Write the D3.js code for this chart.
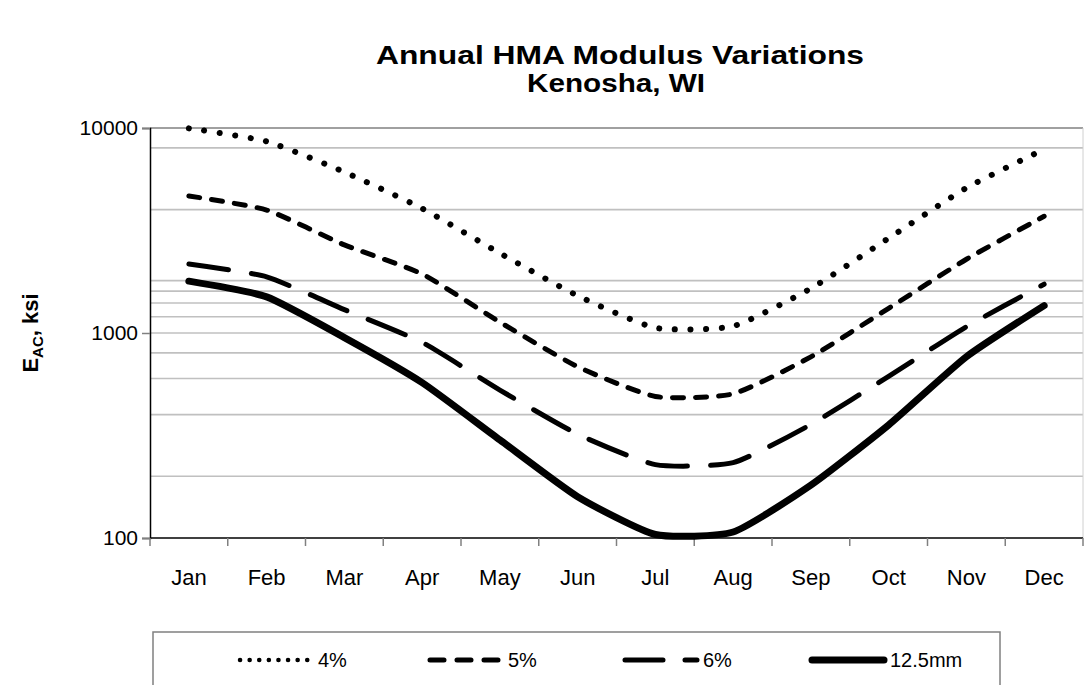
<!DOCTYPE html>
<html><head><meta charset="utf-8">
<script src="https://cdn.jsdelivr.net/npm/d3@7"></script>
<style>
body{margin:0;background:#fff;}
svg{display:block;font-family:"Liberation Sans",Arial,sans-serif;}
</style></head>
<body><svg id="c" width="1084" height="685"></svg>
<script>
const months = ["Jan","Feb","Mar","Apr","May","Jun","Jul","Aug","Sep","Oct","Nov","Dec"];
const seriesNames = ["4%","5%","6%","12.5mm"];
const v4 = [9960,8600,6100,4050,2450,1520,1060,1080,1650,2900,5100,7870];
const v5 = [4660,3980,2690,1940,1130,685,490,505,765,1320,2290,3710];
const v6 = [2170,1880,1300,900,527,321,228,233,358,615,1073,1730];
const v125 = [1790,1500,950,573,301,159,104,107,181,356,766,1360];
const yTicks = [100,1000,10000];
const gridVals = [200,400,600,800,1000,1200,1400,1600,1800,4000,8000];

const svg = d3.select("#c");
const L=150, R=1083, T=128, B=538;
const x = d3.scaleBand().domain(months).range([L,R]);
const y = d3.scaleLog().domain([100,10000]).range([B,T]);

// gridlines
svg.append("g").selectAll("line").data(gridVals).join("line")
  .attr("x1",L).attr("x2",R).attr("y1",d=>y(d)).attr("y2",d=>y(d))
  .attr("stroke","#c0c0c0").attr("stroke-width",1.6);
// top border
svg.append("line").attr("x1",L).attr("x2",R).attr("y1",y(10000)).attr("y2",y(10000))
  .attr("stroke","#808080").attr("stroke-width",1.6);
// right border
svg.append("line").attr("x1",R).attr("x2",R).attr("y1",T).attr("y2",B)
  .attr("stroke","#d0d0d0").attr("stroke-width",1);

// y axis
const ya = svg.append("g").attr("transform",`translate(${L},0)`)
  .call(d3.axisLeft(y).tickValues(yTicks).tickFormat(d3.format("d")).tickSize(8).tickPadding(4));
ya.select(".domain").attr("stroke","#000").attr("stroke-width",1.5);
ya.selectAll(".tick line").attr("stroke","#808080").attr("stroke-width",1.5);
ya.selectAll("text").attr("font-size",21).attr("fill","#000").attr("font-family","Liberation Sans, Arial, sans-serif");

// x axis
const xa = svg.append("g").attr("transform",`translate(0,${B})`)
  .call(d3.axisBottom(x).tickSize(0).tickPadding(31));
xa.select(".domain").remove();
xa.selectAll("text").attr("font-size",22).attr("fill","#000").attr("font-family","Liberation Sans, Arial, sans-serif");
svg.append("line").attr("x1",L).attr("x2",R).attr("y1",B).attr("y2",B).attr("stroke","#000").attr("stroke-width",1.5);
const bounds = months.map(m=>x(m)).concat([x(months[months.length-1])+x.bandwidth()]);
svg.append("g").selectAll("line").data(bounds).join("line")
  .attr("x1",d=>d).attr("x2",d=>d).attr("y1",B).attr("y2",B+8)
  .attr("stroke","#808080").attr("stroke-width",1.5);

// series
const styles = [
  {w:6, dash:"0.1,15.5", lw:4.5, ldash:"0.1,9.5"},
  {w:5, dash:"11,12", lw:5, ldash:"14,13"},
  {w:5, dash:"40,23", lw:5, ldash:"38,22"},
  {w:7, dash:null, lw:7, ldash:null}
];
const data = [v4,v5,v6,v125];
const line = d3.line().x((d,i)=>x(months[i])+x.bandwidth()/2).y(d=>y(d)).curve(d3.curveCardinal.tension(0.45));
data.forEach((vals,k)=>{
  const p = svg.append("path").attr("d",line(vals)).attr("fill","none")
    .attr("stroke","#000").attr("stroke-width",styles[k].w)
    .attr("stroke-linecap","round").attr("stroke-linejoin","round");
  if(styles[k].dash) p.attr("stroke-dasharray",styles[k].dash);
});

// title
svg.append("text").attr("x",620).attr("y",64).attr("text-anchor","middle")
  .attr("font-size",25).attr("font-weight","bold")
  .attr("textLength",488).attr("lengthAdjust","spacingAndGlyphs")
  .text("Annual HMA Modulus Variations");
svg.append("text").attr("x",616).attr("y",92).attr("text-anchor","middle")
  .attr("font-size",25).attr("font-weight","bold")
  .attr("textLength",178).attr("lengthAdjust","spacingAndGlyphs")
  .text("Kenosha, WI");

// y title
const yt = svg.append("text").attr("transform","translate(38,333) rotate(-90)")
  .attr("text-anchor","middle").attr("font-size",22).attr("font-weight","bold");
yt.append("tspan").text("E");
yt.append("tspan").attr("font-size",15).attr("dy",5).text("AC");
yt.append("tspan").attr("dy",-5).text(", ksi");

// legend
svg.append("rect").attr("x",153).attr("y",632).attr("width",847).attr("height",60)
  .attr("fill","#fff").attr("stroke","#808080").attr("stroke-width",1.5);
const legX = [240,430,625,812];
seriesNames.forEach((n,k)=>{
  const ly = 660;
  const l = svg.append("line").attr("x1",legX[k]).attr("x2",legX[k]+72).attr("y1",ly).attr("y2",ly)
    .attr("stroke","#000").attr("stroke-width",styles[k].lw).attr("stroke-linecap","round");
  if(styles[k].ldash) l.attr("stroke-dasharray",styles[k].ldash);
  svg.append("text").attr("x",legX[k]+78).attr("y",ly+7).attr("font-size",20).text(n);
});
</script></body></html>
